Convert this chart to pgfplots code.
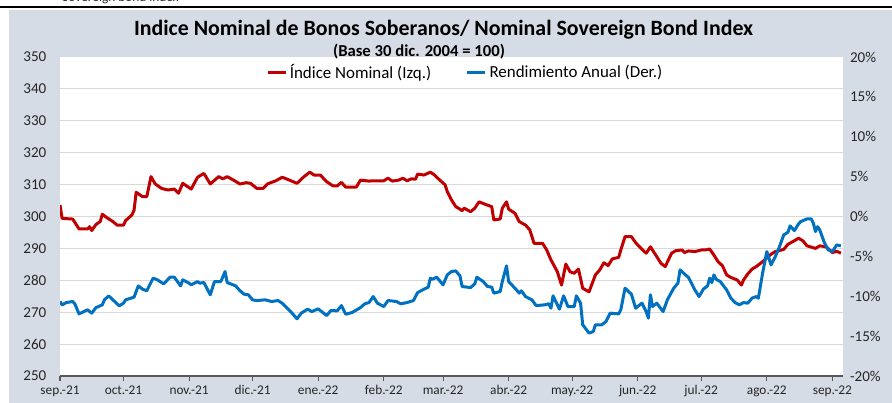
\documentclass[border=0pt]{standalone}
\usepackage{fontspec}
\setmainfont{Carlito}
\usepackage{pgfplots}
\usepackage{pgfplotstable}
\pgfplotsset{compat=1.18}
\definecolor{bg}{HTML}{D6DCE5}
\definecolor{rd}{HTML}{C00000}
\definecolor{bl}{HTML}{0070C0}
\definecolor{gr}{HTML}{D9D9D9}
\definecolor{ax}{HTML}{595959}

\pgfplotstableread{
d v
0 303.6
1 299.4
6 299.2
9 296.1
13 296.1
14 296.8
15 295.6
17 297.5
19 298.4
20 300.7
22 299.7
25 298.4
27 297.3
30 297.3
31 298.7
34 300.5
35 302.0
36 307.6
39 306.2
41 306.2
43 312.5
45 310.2
48 308.8
51 308.3
54 308.6
56 307.3
58 310.4
60 309.5
62 308.6
65 312.3
68 313.5
71 310.2
75 312.5
77 311.8
79 312.5
82 311.4
85 310.2
88 310.6
90 310.4
93 308.8
96 308.8
98 310.2
102 311.2
105 312.3
107 311.8
112 310.4
115 312.3
118 313.9
120 313.0
123 313.0
126 310.9
129 309.6
131 309.6
133 310.7
135 309.2
140 309.2
142 311.4
146 311.1
148 311.2
153 311.2
155 312.0
157 311.1
160 311.4
162 312.0
164 311.2
166 311.8
168 311.7
169 313.3
172 313.0
175 313.9
177 313.0
179 311.7
182 309.9
183 307.8
185 305.2
187 303.1
189 302.3
190 301.8
191 302.6
194 301.5
196 302.6
198 304.6
201 303.8
204 303.1
205 298.9
208 299.2
209 302.6
211 304.6
212 302.3
215 301.0
217 298.4
220 297.3
222 295.8
224 291.6
228 291.6
230 289.5
232 286.4
235 282.7
237 278.5
239 285.1
241 282.7
243 282.2
245 283.5
247 277.5
250 276.4
253 281.7
255 283.2
257 285.5
259 284.6
261 286.7
264 287.2
265 289.5
267 293.7
270 293.7
272 291.8
275 289.7
277 288.5
279 290.5
282 287.4
284 285.3
286 284.3
289 288.5
291 289.3
294 289.5
295 288.7
297 289.2
300 289.0
303 289.5
305 289.5
307 289.8
309 287.9
311 285.8
313 284.6
315 281.7
317 280.9
320 280.1
322 278.5
323 280.1
325 282.0
327 283.5
329 284.3
331 285.3
333 286.4
336 288.2
338 289.0
342 289.7
344 291.3
347 292.4
349 293.2
351 292.4
353 290.8
357 290.0
359 290.8
362 290.5
365 288.7
367 289.1
369 288.5
}\redtable

\pgfplotstableread{
d v
0 -10.66
1 -11.08
3 -10.79
6 -10.66
7 -10.95
9 -12.21
13 -11.70
15 -12.12
17 -11.42
20 -11.08
21 -10.45
23 -9.95
25 -10.45
28 -11.20
30 -10.87
31 -10.45
35 -10.11
37 -8.70
39 -9.11
41 -9.32
44 -7.73
46 -7.94
49 -8.45
52 -7.61
54 -7.61
57 -8.70
58 -7.94
61 -8.36
62 -8.57
65 -8.16
66 -8.36
68 -8.28
71 -9.82
73 -8.16
76 -8.16
78 -6.90
79 -8.28
83 -8.70
85 -9.29
87 -9.74
89 -9.82
91 -10.45
93 -10.54
97 -10.45
100 -10.66
103 -10.54
105 -10.87
109 -11.92
112 -12.83
114 -12.12
117 -11.62
119 -11.92
122 -11.58
126 -12.42
128 -11.79
131 -11.83
133 -11.17
135 -12.25
138 -12.04
142 -11.42
144 -10.95
146 -10.79
148 -10.04
150 -10.87
153 -11.29
155 -10.54
159 -10.66
161 -10.95
164 -10.79
167 -10.54
169 -9.54
172 -9.11
174 -8.86
175 -7.73
176 -7.86
178 -7.61
181 -8.57
183 -7.32
185 -6.90
187 -6.82
189 -7.44
190 -8.78
194 -8.91
196 -8.45
197 -7.61
200 -8.16
202 -8.78
204 -8.86
205 -9.61
208 -9.41
209 -8.16
211 -6.19
212 -8.16
215 -8.99
217 -9.61
218 -9.32
220 -10.04
223 -10.45
225 -11.17
229 -11.08
231 -10.95
232 -11.49
233 -9.95
236 -11.62
238 -9.95
240 -11.29
243 -11.29
244 -9.95
246 -10.87
247 -13.58
250 -14.62
252 -14.42
253 -13.58
256 -13.58
258 -13.17
260 -12.12
264 -12.21
265 -11.70
267 -8.99
270 -9.74
272 -11.49
275 -10.87
277 -11.92
278 -12.75
279 -9.82
280 -11.29
282 -10.87
285 -11.92
287 -10.45
290 -8.99
292 -8.36
293 -6.69
295 -7.19
297 -7.65
300 -9.20
302 -10.04
304 -9.11
306 -8.70
307 -7.73
308 -8.28
309 -7.32
310 -7.86
312 -8.16
315 -9.20
317 -10.24
319 -10.79
321 -11.08
323 -10.79
325 -10.87
327 -10.24
329 -10.04
330 -10.24
332 -7.11
334 -4.40
336 -6.07
338 -5.03
340 -3.77
342 -2.31
344 -1.97
345 -1.18
347 -1.77
349 -0.93
350 -0.64
353 -0.30
355 -0.30
356 -0.84
357 -1.89
358 -1.27
359 -1.68
361 -3.15
363 -4.19
365 -4.40
367 -3.56
369 -3.68
}\bluetable

\begin{document}
\begin{tikzpicture}[x=0.75pt,y=0.75pt]
\path[use as bounding box] (0,0) rectangle (892,403);
\fill[bg] (9,0) rectangle (892,393);
\draw[black, line width=1.1pt] (0,396) -- (892,396);
\node[anchor=base west, font=\fontsize{10}{12}\selectfont, text=black!85, inner sep=0pt] at (62,401) {Sovereign bond index};

\begin{axis}[
  at={(45pt,20.25pt)}, anchor=south west,
  scale only axis, width=587.25pt, height=239.25pt,
  axis background/.style={fill=white},
  xmin=0, xmax=370, ymin=250, ymax=350,
  ytick={250,260,...,350},
  xtick={0,30,61,91,122,153,181,212,242,273,303,334,365},
  xticklabels={sep.-21,oct.-21,nov.-21,dic.-21,ene.-22,feb.-22,mar.-22,abr.-22,may.-22,jun.-22,jul.-22,ago.-22,sep.-22},
  axis x line*=bottom, axis y line*=left,
  y axis line style={draw=none},
  x axis line style={ax, line width=0.8pt},
  tick align=outside, major tick length=3.75pt,
  xtick style={ax, line width=0.8pt},
  ytick style={draw=none},
  ymajorgrids, grid style={gr, line width=0.75pt},
  /pgf/number format/assume math mode=true,
  xticklabel style={font=\fontsize{10}{12}\selectfont, text=black!85},
  yticklabel style={font=\fontsize{11.3}{13}\selectfont, text=black!85, xshift=-3pt},
  legend style={at={(0.518,0.985)}, anchor=north, draw=none, fill=none,
    font=\fontsize{12.7}{15}\selectfont, legend columns=2,
    /tikz/every even column/.append style={column sep=24pt},
    inner sep=0pt},
  legend image code/.code={\draw[#1] (0pt,0pt) -- (13.5pt,0pt);},
  legend cell align=left,
]
\addplot[rd, line width=2.25pt, line join=round] table[x=d,y=v] {\redtable};
\addlegendentry{Índice Nominal (Izq.)}
\addlegendimage{bl, line width=2.25pt}
\addlegendentry{Rendimiento Anual (Der.)}
\end{axis}

\begin{axis}[
  at={(45pt,20.25pt)}, anchor=south west,
  scale only axis, width=587.25pt, height=239.25pt,
  xmin=0, xmax=370, ymin=-20, ymax=20,
  ytick={-20,-15,...,20},
  axis x line=none, axis y line*=right,
  y axis line style={draw=none},
  ytick style={draw=none},
  tick align=outside, major tick length=3.75pt,
  /pgf/number format/assume math mode=true,
  yticklabel={\pgfmathprintnumber{\tick}\%},
  yticklabel style={font=\fontsize{11.3}{13}\selectfont, text=black!85, xshift=-2pt},
]
\addplot[bl, line width=2.25pt, line join=round] table[x=d,y=v] {\bluetable};
\end{axis}

\node[font=\bfseries\fontsize{16.4}{19}\selectfont, inner sep=0pt] at (443.5,373) {Indice Nominal de Bonos Soberanos/ Nominal Sovereign Bond Index};
\node[font=\bfseries\fontsize{12.5}{15}\selectfont, inner sep=0pt] at (419,351.5) {(Base 30 dic. 2004 = 100)};
\end{tikzpicture}
\end{document}
